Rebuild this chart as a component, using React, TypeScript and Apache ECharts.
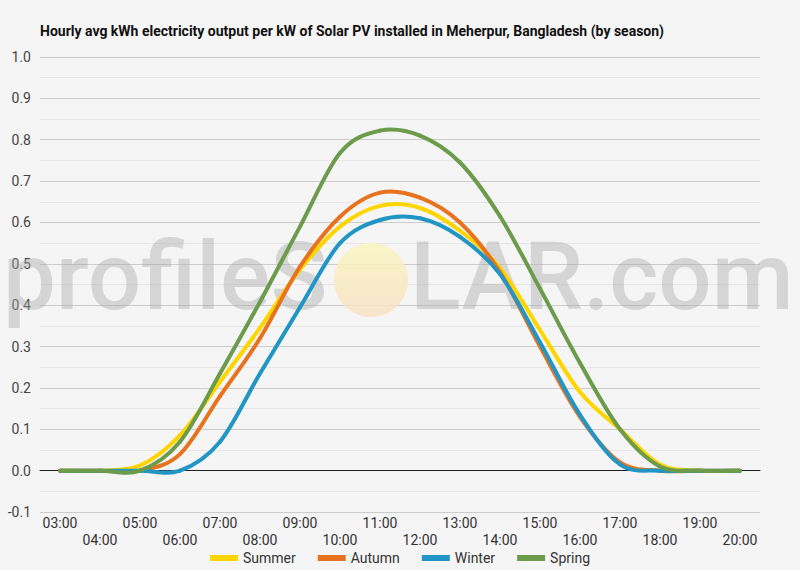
import React, { useEffect, useRef } from 'react';
import * as echarts from 'echarts';

const hours = [
  '03:00', '04:00', '05:00', '06:00', '07:00', '08:00', '09:00', '10:00', '11:00',
  '12:00', '13:00', '14:00', '15:00', '16:00', '17:00', '18:00', '19:00', '20:00',
];

const summer = [0, 0, 0.012, 0.085, 0.215, 0.345, 0.486, 0.59, 0.64, 0.635, 0.58, 0.49, 0.34, 0.19, 0.1, 0.015, 0, 0];
const autumn = [0, 0, 0, 0.04, 0.18, 0.32, 0.493, 0.614, 0.672, 0.66, 0.6, 0.48, 0.3, 0.13, 0.02, 0, 0, 0];
const winter = [0, 0, 0, 0, 0.07, 0.235, 0.395, 0.55, 0.606, 0.61, 0.565, 0.475, 0.31, 0.135, 0.015, 0, 0, 0];
const spring = [0, 0, 0, 0.07, 0.235, 0.408, 0.59, 0.768, 0.822, 0.81, 0.745, 0.615, 0.44, 0.26, 0.1, 0.01, 0, 0];

const seasons = ['Summer', 'Autumn', 'Winter', 'Spring'];
const COLORS = ['#FFD500', '#E8731F', '#2196C4', '#6B9B4B'];
const FONT = 'Roboto';

// spline like the spreadsheet's smoothed line: one bezier per hour, control points from neighbours
const mkSeries = (name: string, values: number[], color: string) => ({
  name,
  type: 'custom',
  z: 3,
  data: values.map((v, i) => [i, v]),
  encode: { x: 0, y: 1 },
  itemStyle: { color },
  renderItem: (params: any, api: any) => {
    const i = params.dataIndex;
    const n = values.length;
    if (i >= n - 1) return null;
    const pt = (j: number) => {
      const k = Math.max(0, Math.min(n - 1, j));
      return api.coord([k, values[k]]);
    };
    const p0 = pt(i - 1);
    const p1 = pt(i);
    const p2 = pt(i + 1);
    const p3 = pt(i + 2);
    return {
      type: 'bezierCurve',
      shape: {
        x1: p1[0],
        y1: p1[1],
        x2: p2[0],
        y2: p2[1],
        cpx1: p1[0] + (p2[0] - p0[0]) / 6,
        cpy1: p1[1] + (p2[1] - p0[1]) / 6,
        cpx2: p2[0] - (p3[0] - p1[0]) / 6,
        cpy2: p2[1] - (p3[1] - p1[1]) / 6,
      },
      style: { stroke: color, lineWidth: 4, fill: 'none', lineCap: 'round' },
    };
  },
});

const App: React.FC = () => {
  const chartRef = useRef<HTMLDivElement>(null);

  useEffect(() => {
    const chart = echarts.init(chartRef.current, null, { renderer: 'svg' });

    chart.setOption({
      animation: false,
      backgroundColor: '#f5f5f5',
      textStyle: { fontFamily: FONT },
      title: {
        text: 'Hourly avg kWh electricity output per kW of Solar PV installed in Meherpur, Bangladesh (by season)',
        left: 35,
        top: 19,
        textStyle: { fontFamily: FONT, fontSize: 14, fontWeight: 'bold', color: '#111' },
      },
      legend: {
        bottom: 0,
        left: 'center',
        icon: 'rect',
        itemWidth: 28,
        itemHeight: 6,
        itemGap: 22,
        textStyle: { fontFamily: FONT, fontSize: 14, color: '#333' },
        data: seasons.map((s, i) => ({ name: s, itemStyle: { color: COLORS[i] } })),
      },
      grid: { left: 40, right: 40, top: 57, bottom: 58, containLabel: false },
      graphic: [
        {
          type: 'text',
          left: 3,
          top: 230,
          z: 1,
          silent: true,
          style: {
            text: 'profileS',
            font: `500 94px ${FONT}`,
            fill: 'rgba(170,170,170,0.42)',
          },
        },
        {
          type: 'circle',
          shape: { cx: 371, cy: 280, r: 37 },
          z: 1,
          silent: true,
          style: {
            fill: new echarts.graphic.LinearGradient(0, 0, 0, 1, [
              { offset: 0, color: 'rgba(250,245,190,0.85)' },
              { offset: 1, color: 'rgba(248,225,195,0.85)' },
            ]),
          },
        },
        {
          type: 'text',
          left: 410,
          top: 230,
          z: 1,
          silent: true,
          style: {
            text: 'LAR.com',
            font: `500 94px ${FONT}`,
            fill: 'rgba(170,170,170,0.42)',
          },
        },
      ],
      xAxis: {
        type: 'category',
        data: hours,
        boundaryGap: true,
        axisLine: { onZero: true, lineStyle: { color: '#222', width: 1 } },
        axisTick: { show: false },
        axisLabel: {
          interval: 0,
          margin: 2,
          fontSize: 14,
          lineHeight: 17,
          color: '#333',
          fontFamily: FONT,
          formatter: (v: string, i: number) => (i % 2 === 1 ? '\n' + v : v),
        },
      },
      yAxis: {
        type: 'value',
        min: -0.1,
        max: 1.0,
        interval: 0.1,
        axisLine: { show: false },
        axisTick: { show: false },
        axisLabel: {
          margin: 9,
          fontSize: 14,
          color: '#444',
          fontFamily: FONT,
          formatter: (v: number) => v.toFixed(1),
        },
        splitLine: { lineStyle: { color: '#cccccc', width: 1 } },
        minorTick: { show: false, splitNumber: 2 },
        minorSplitLine: { show: true, lineStyle: { color: '#e6e6e6', width: 1 } },
      },
      series: [
        mkSeries('Summer', summer, COLORS[0]),
        mkSeries('Autumn', autumn, COLORS[1]),
        mkSeries('Winter', winter, COLORS[2]),
        mkSeries('Spring', spring, COLORS[3]),
      ],
    });

    return () => {
      chart.dispose();
    };
  }, []);

  return (
    <div
      ref={chartRef}
      style={{ position: 'absolute', left: 0, top: 0, width: '800px', height: '570px' }}
    />
  );
};

export default App;
